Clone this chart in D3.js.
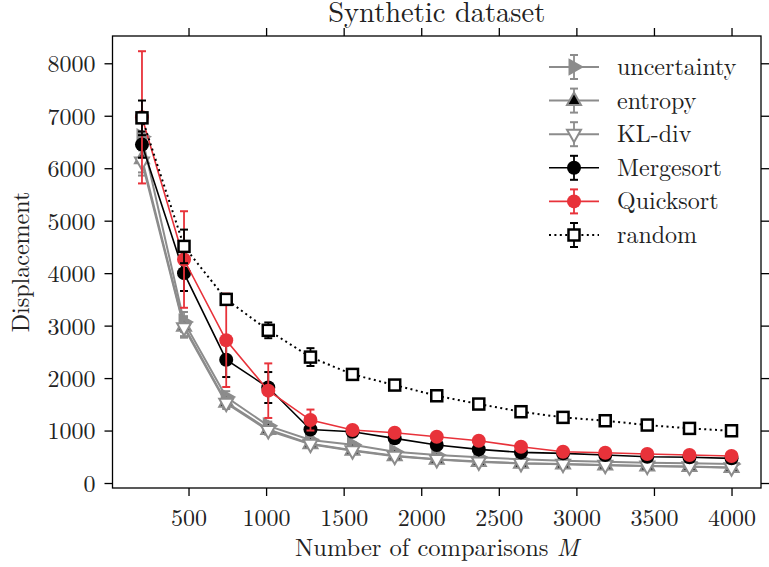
<!DOCTYPE html>
<html>
<head>
<meta charset="utf-8">
<script src="https://cdn.jsdelivr.net/npm/d3@7"></script>
<style>
  body { margin: 0; background: #fff; }
  svg text { font-family: "Latin Modern Roman", "Liberation Serif", serif; fill: #222; }
</style>
</head>
<body>
<svg id="chart" width="769" height="567"></svg>
<script>
// number of comparisons M
const mVals = [200, 471, 743, 1014, 1286, 1557, 1829, 2100, 2371, 2643, 2914, 3186, 3457, 3729, 4000];

// mean displacement per method
const uncertaintyMean = [6600, 3070, 1640, 1090, 820, 730, 597, 533, 489, 451, 425, 406, 387, 375, 362];
const entropyMean     = [6180, 2990, 1540, 1020, 750, 625, 520, 455, 410, 378, 364, 345, 326, 313, 295];
const klMean          = [6120, 2960, 1520, 1000, 740, 615, 510, 448, 402, 372, 360, 340, 322, 309, 290];
const mergeMean       = [6450, 4000, 2350, 1820, 1020, 977, 851, 724, 641, 584, 565, 533, 502, 490, 470];
const quickMean       = [6970, 4260, 2720, 1760, 1200, 1010, 958, 882, 806, 692, 597, 578, 552, 533, 514];
const randomMean      = [6960, 4510, 3500, 2910, 2400, 2070, 1867, 1663, 1505, 1359, 1251, 1187, 1105, 1041, 996];

// error bar half-widths
const grayErr   = [260, 190, 110, 80, 60, 50, 40, 40, 30, 30, 30, 30, 30, 30, 30];
const mergeErr  = [250, 340, 330, 295, 80, 50, 50, 40, 40, 30, 30, 30, 30, 30, 30];
const quickErr  = [1260, 920, 890, 520, 200, 60, 50, 50, 40, 40, 30, 30, 30, 30, 30];
const randomErr = [330, 320, 100, 150, 170, 90, 80, 70, 60, 60, 50, 50, 50, 50, 50];

const xTicks = [500, 1000, 1500, 2000, 2500, 3000, 3500, 4000];
const yTicks = [0, 1000, 2000, 3000, 4000, 5000, 6000, 7000, 8000];

const gray = '#8c8c8c', red = '#e8323a';
const FONT = '"Latin Modern Roman", "Liberation Serif", serif';

const series = [
  { name: 'uncertainty', mean: uncertaintyMean, err: grayErr, color: gray, lw: 2, marker: 'triRight', fill: gray },
  { name: 'entropy', mean: entropyMean, err: grayErr, color: gray, lw: 2, marker: 'triUp', fill: '#000' },
  { name: 'KL-div', mean: klMean, err: grayErr, color: gray, lw: 2, marker: 'triDown', fill: '#fff' },
  { name: 'Mergesort', mean: mergeMean, err: mergeErr, color: '#000', lw: 1.6, marker: 'circle', fill: '#000' },
  { name: 'Quicksort', mean: quickMean, err: quickErr, color: red, lw: 1.6, marker: 'circle', fill: red },
  { name: 'random', mean: randomMean, err: randomErr, color: '#000', lw: 2, marker: 'square', fill: '#fff', dash: '2,3.4' }
];

const pLeft = 112.5, pRight = 761, pTop = 36, pBottom = 488;

const svg = d3.select('#chart');

const x = d3.scaleLinear().domain([10, 4190]).range([pLeft, pRight]);
const y = d3.scaleLinear().domain([-95, 8520]).range([pBottom, pTop]);

function markerPath(kind) {
  if (kind === 'triUp') return 'M0,-8L7,4.5L-7,4.5Z';
  if (kind === 'triDown') return 'M0,8L7,-4.5L-7,-4.5Z';
  if (kind === 'triRight') return 'M8,0L-4.5,7L-4.5,-7Z';
  return null;
}

function drawMarker(g, s, cx, cy) {
  if (s.marker === 'circle') {
    g.append('circle').attr('cx', cx).attr('cy', cy).attr('r', 7).attr('fill', s.fill);
  } else if (s.marker === 'square') {
    g.append('rect').attr('x', cx - 5.5).attr('y', cy - 5.5).attr('width', 11).attr('height', 11)
      .attr('fill', '#fff').attr('stroke', '#000').attr('stroke-width', 2.5);
  } else {
    g.append('path').attr('d', markerPath(s.marker)).attr('transform', `translate(${cx},${cy})`)
      .attr('fill', s.fill).attr('stroke', gray).attr('stroke-width', 2);
  }
}

function drawErr(g, s, cx, y0, y1) {
  g.append('line').attr('x1', cx).attr('x2', cx).attr('y1', y0).attr('y2', y1)
    .attr('stroke', s.color).attr('stroke-width', 1.8);
  [y0, y1].forEach(v => {
    g.append('line').attr('x1', cx - 4).attr('x2', cx + 4).attr('y1', v).attr('y2', v)
      .attr('stroke', s.color).attr('stroke-width', 2);
  });
}

const plot = svg.append('g');
const line = d3.line().x((d, i) => x(mVals[i])).y(d => y(d));

series.forEach(s => {
  const g = plot.append('g');
  s.mean.forEach((m, i) => drawErr(g, s, x(mVals[i]), y(m - s.err[i]), y(m + s.err[i])));
  g.append('path').datum(s.mean).attr('d', line).attr('fill', 'none')
    .attr('stroke', s.color).attr('stroke-width', s.lw)
    .attr('stroke-dasharray', s.dash || null);
  s.mean.forEach((m, i) => drawMarker(g, s, x(mVals[i]), y(m)));
});

// frame
svg.append('rect').attr('x', pLeft).attr('y', pTop).attr('width', pRight - pLeft).attr('height', pBottom - pTop)
  .attr('fill', 'none').attr('stroke', '#000').attr('stroke-width', 1.3);

// axes with ticks outward on all four sides
const axB = svg.append('g').attr('transform', `translate(0,${pBottom})`)
  .call(d3.axisBottom(x).tickValues(xTicks).tickSize(8).tickPadding(13).tickFormat(d3.format('d')));
const axT = svg.append('g').attr('transform', `translate(0,${pTop})`)
  .call(d3.axisTop(x).tickValues(xTicks).tickSize(8).tickFormat(''));
const axL = svg.append('g').attr('transform', `translate(${pLeft},0)`)
  .call(d3.axisLeft(y).tickValues(yTicks).tickSize(8).tickPadding(9).tickFormat(d3.format('d')));
const axR = svg.append('g').attr('transform', `translate(${pRight},0)`)
  .call(d3.axisRight(y).tickValues(yTicks).tickSize(8).tickFormat(''));

[axB, axT, axL, axR].forEach(a => {
  a.select('.domain').remove();
  a.selectAll('.tick line').attr('stroke', '#000').attr('stroke-width', 1.3);
  a.selectAll('text').style('font-size', '24px').style('font-family', FONT).attr('fill', '#222');
});
axL.selectAll('text').attr('dy', '0.35em');

// labels
svg.append('text').attr('x', (pLeft + pRight) / 2).attr('y', 22).attr('text-anchor', 'middle')
  .style('font-size', '28.5px').style('font-family', FONT).text('Synthetic dataset');

const xl = svg.append('text').attr('x', (pLeft + pRight) / 2).attr('y', 556).attr('text-anchor', 'middle')
  .style('font-size', '24.5px').style('font-family', FONT);
xl.append('tspan').text('Number of comparisons ');
xl.append('tspan').attr('font-style', 'italic').text('M');

svg.append('text').attr('transform', `translate(29,${(pTop + pBottom) / 2}) rotate(-90)`)
  .attr('text-anchor', 'middle').style('font-size', '24px').style('font-family', FONT).text('Displacement');

// legend
const legend = svg.append('g');
series.forEach((s, i) => {
  const cy = 67 + i * 33.6;
  const g = legend.append('g');
  g.append('line').attr('x1', 549).attr('x2', 599).attr('y1', cy).attr('y2', cy)
    .attr('stroke', s.color).attr('stroke-width', s.lw).attr('stroke-dasharray', s.dash || null);
  drawErr(g, s, 574, cy - 12, cy + 12);
  drawMarker(g, s, 574, cy);
  g.append('text').attr('x', 617).attr('y', cy + 8).style('font-size', '24px').style('font-family', FONT).text(s.name);
});
</script>
</body>
</html>
